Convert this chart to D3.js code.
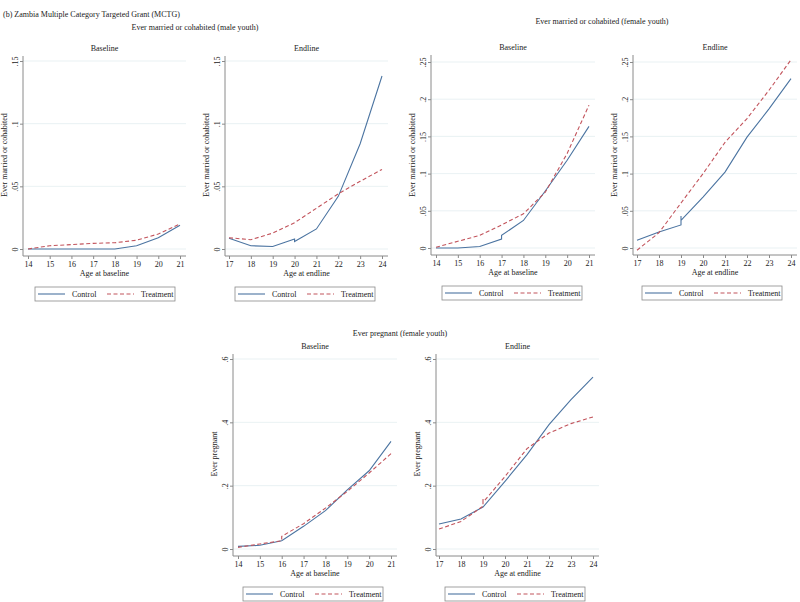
<!DOCTYPE html>
<html>
<head>
<meta charset="utf-8">
<script src="https://cdn.jsdelivr.net/npm/d3@7"></script>
<style>
  body { margin: 0; background: #fff; }
  svg { display: block; }
  text { font-family: "Liberation Serif", "DejaVu Serif", serif; fill: #222; }
</style>
</head>
<body>
<script>
// ---- data ----
const ageBaseline = [14, 15, 16, 17, 18, 19, 20, 21];
const ageEndline = [17, 18, 19, 20, 21, 22, 23, 24];

// [age, share] pairs; repeated ages are the little steps in the fitted lines
const maleBaseControl = [[14, 0], [15, 0], [16, 0], [17, 0], [18, 0], [19, 0.0026], [20, 0.009], [21, 0.019]];
const maleBaseTreatment = [[14, 0], [15, 0.0026], [16, 0.0035], [17, 0.0045], [18, 0.005], [19, 0.007], [20, 0.012], [21, 0.02]];
const maleEndControl = [[17, 0.0085], [18, 0.0026], [19, 0.002], [20, 0.008], [20, 0.006], [21, 0.016], [22, 0.042], [23, 0.084], [24, 0.138]];
const maleEndTreatment = [[17, 0.009], [18, 0.0074], [19, 0.0127], [20, 0.021], [21, 0.0325], [22, 0.044], [23, 0.054], [24, 0.0635]];

const femaleBaseControl = [[14, 0], [15, 0], [16, 0.002], [17, 0.012], [17, 0.017], [18, 0.037], [19, 0.0766], [20, 0.118], [21, 0.1635]];
const femaleBaseTreatment = [[14, 0.001], [15, 0.009], [16, 0.017], [17, 0.031], [18, 0.046], [19, 0.075], [20, 0.127], [21, 0.192]];
const femaleEndControl = [[17, 0.0103], [18, 0.0215], [19, 0.031], [19, 0.043], [19, 0.037], [20, 0.0685], [21, 0.102], [22, 0.149], [23, 0.187], [24, 0.2276]];
const femaleEndTreatment = [[17, -0.003], [18, 0.0206], [19, 0.0605], [20, 0.0999], [21, 0.142], [22, 0.174], [23, 0.212], [24, 0.253]];

const pregBaseControl = [[14, 0.0084], [15, 0.0116], [16, 0.026], [17, 0.0716], [18, 0.121], [19, 0.187], [20, 0.247], [21, 0.34]];
const pregBaseTreatment = [[14, 0.005], [15, 0.016], [16, 0.026], [16, 0.04], [17, 0.08], [18, 0.129], [19, 0.182], [20, 0.24], [21, 0.301]];
const pregEndControl = [[17, 0.079], [18, 0.0947], [19, 0.1326], [20, 0.2137], [21, 0.298], [22, 0.3926], [23, 0.4716], [24, 0.543]];
const pregEndTreatment = [[17, 0.063], [18, 0.087], [19, 0.135], [19, 0.16], [19, 0.147], [20, 0.229], [21, 0.317], [22, 0.366], [23, 0.396], [24, 0.417]];

const ticksMale = [0, 0.05, 0.1, 0.15];
const ticksFemale = [0, 0.05, 0.1, 0.15, 0.2, 0.25];
const ticksPreg = [0, 0.2, 0.4, 0.6];

const seriesNames = ["Control", "Treatment"];
const colControl = "#4b74a1";
const colTreatment = "#c2545c";

const width = 800, height = 602;

const svg = d3.select("body").append("svg")
    .attr("width", width)
    .attr("height", height);

// headings
svg.append("text").attr("x", 3).attr("y", 17).style("font-size", "8px")
    .text("(b) Zambia Multiple Category Targeted Grant (MCTG)");
svg.append("text").attr("x", 195).attr("y", 30).attr("text-anchor", "middle").style("font-size", "8px")
    .text("Ever married or cohabited (male youth)");
svg.append("text").attr("x", 602).attr("y", 24).attr("text-anchor", "middle").style("font-size", "8px")
    .text("Ever married or cohabited (female youth)");
svg.append("text").attr("x", 400).attr("y", 336).attr("text-anchor", "middle").style("font-size", "8px")
    .text("Ever pregnant (female youth)");

// Stata-style tick labels: 0, .05, .1 ...
const fmt = d => d === 0 ? "0" : String(+d.toFixed(2)).replace(/^0/, "");

function panel(opt) {
    const g = svg.append("g");
    const x = d3.scaleLinear().domain(d3.extent(opt.ages)).range(opt.xr);
    const y = d3.scaleLinear().domain([0, d3.max(opt.ticks)]).range(opt.yr);

    // gridlines
    g.selectAll(".grid")
        .data(opt.ticks)
        .join("line")
        .attr("x1", opt.axisX).attr("x2", opt.gridRight)
        .attr("y1", d => y(d)).attr("y2", d => y(d))
        .attr("stroke", "#e3eef0").attr("stroke-width", 0.8);

    // y axis, labels turned on their side
    const yAxis = g.append("g")
        .attr("transform", `translate(${opt.axisX},0)`)
        .call(d3.axisLeft(y).tickValues(opt.ticks).tickFormat(fmt).tickSize(3));
    yAxis.select(".domain").attr("d", `M0,${opt.axisTop}V${opt.axisBottom}`);
    yAxis.selectAll("line, path").attr("stroke", "#8a8a8a");
    yAxis.selectAll(".tick text")
        .attr("x", null).attr("dy", null)
        .attr("text-anchor", "middle")
        .attr("transform", "translate(-5,0) rotate(-90)")
        .style("font-size", "8px");

    // x axis
    const xAxis = g.append("g")
        .attr("transform", `translate(0,${opt.axisBottom})`)
        .call(d3.axisBottom(x).tickValues(opt.ages).tickFormat(d3.format("d")).tickSize(3).tickPadding(2));
    xAxis.select(".domain").attr("d", `M${opt.axisX},0H${opt.gridRight}`);
    xAxis.selectAll("line, path").attr("stroke", "#8a8a8a");
    xAxis.selectAll("text").style("font-size", "8px");

    // titles
    g.append("text")
        .attr("x", (opt.axisX + opt.gridRight) / 2).attr("y", opt.axisTop - 5)
        .attr("text-anchor", "middle").style("font-size", "8px")
        .text(opt.title);
    g.append("text")
        .attr("x", (opt.axisX + opt.gridRight) / 2).attr("y", opt.axisBottom + 20)
        .attr("text-anchor", "middle").style("font-size", "8px")
        .text(opt.xLabel);
    g.append("text")
        .attr("transform", `translate(${opt.axisX - 16},${(opt.yr[0] + opt.yr[1]) / 2}) rotate(-90)`)
        .attr("text-anchor", "middle").style("font-size", "8px")
        .text(opt.yLabel);

    // lines
    const line = d3.line().x(d => x(d[0])).y(d => y(d[1]));
    g.append("path").datum(opt.control)
        .attr("d", line).attr("fill", "none")
        .attr("stroke", colControl).attr("stroke-width", 1.1);
    g.append("path").datum(opt.treatment)
        .attr("d", line).attr("fill", "none")
        .attr("stroke", colTreatment).attr("stroke-width", 1.1)
        .attr("stroke-dasharray", "4,2.5");

    // legend
    const lg = g.append("g").attr("transform", `translate(${opt.legendX},${opt.axisBottom + 31})`);
    lg.append("rect").attr("width", 140).attr("height", 14)
        .attr("fill", "#fff").attr("stroke", "#8a8a8a").attr("stroke-width", 0.8);
    seriesNames.forEach((name, i) => {
        const ox = i === 0 ? 3 : 72;
        lg.append("line").attr("x1", ox).attr("x2", ox + 27).attr("y1", 7).attr("y2", 7)
            .attr("stroke", i === 0 ? colControl : colTreatment).attr("stroke-width", 1.1)
            .attr("stroke-dasharray", i === 0 ? null : "4,2.5");
        lg.append("text").attr("x", ox + 34).attr("y", 10).style("font-size", "8px").text(name);
    });
}

const yLabMarried = "Ever married or cohabited";

panel({ ages: ageBaseline, ticks: ticksMale, control: maleBaseControl, treatment: maleBaseTreatment,
    axisX: 23, gridRight: 186, xr: [28, 180], yr: [249, 61], axisTop: 56, axisBottom: 256, legendX: 35,
    title: "Baseline", xLabel: "Age at baseline", yLabel: yLabMarried });
panel({ ages: ageEndline, ticks: ticksMale, control: maleEndControl, treatment: maleEndTreatment,
    axisX: 225, gridRight: 388, xr: [229, 382], yr: [249, 61], axisTop: 56, axisBottom: 256, legendX: 235,
    title: "Endline", xLabel: "Age at endline", yLabel: yLabMarried });
panel({ ages: ageBaseline, ticks: ticksFemale, control: femaleBaseControl, treatment: femaleBaseTreatment,
    axisX: 431, gridRight: 595, xr: [436, 589], yr: [248, 62], axisTop: 55, axisBottom: 255, legendX: 442,
    title: "Baseline", xLabel: "Age at baseline", yLabel: yLabMarried });
panel({ ages: ageEndline, ticks: ticksFemale, control: femaleEndControl, treatment: femaleEndTreatment,
    axisX: 633, gridRight: 797, xr: [637, 791], yr: [248, 62], axisTop: 55, axisBottom: 255, legendX: 642,
    title: "Endline", xLabel: "Age at endline", yLabel: yLabMarried });
panel({ ages: ageBaseline, ticks: ticksPreg, control: pregBaseControl, treatment: pregBaseTreatment,
    axisX: 233, gridRight: 397, xr: [238, 391], yr: [549, 359], axisTop: 354, axisBottom: 556, legendX: 243,
    title: "Baseline", xLabel: "Age at baseline", yLabel: "Ever pregnant" });
panel({ ages: ageEndline, ticks: ticksPreg, control: pregEndControl, treatment: pregEndTreatment,
    axisX: 436, gridRight: 599, xr: [439, 593], yr: [549, 359], axisTop: 354, axisBottom: 556, legendX: 445,
    title: "Endline", xLabel: "Age at endline", yLabel: "Ever pregnant" });
</script>
</body>
</html>
